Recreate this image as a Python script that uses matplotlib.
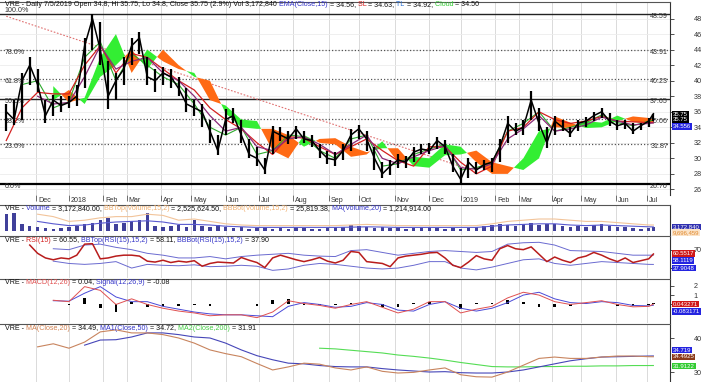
import numpy as np
import pandas as pd
import matplotlib
matplotlib.use("Agg")
import matplotlib.pyplot as plt

plt.rcParams['font.family'] = ['Liberation Sans', 'DejaVu Sans']

nan = np.nan

# HOSE trading calendar for VRE (listed 6 Nov 2017)
holidays = ['2018-01-01', '2018-02-14', '2018-02-15', '2018-02-16', '2018-02-19', '2018-02-20',
            '2018-04-25', '2018-04-30', '2018-05-01', '2018-09-03', '2018-12-31', '2019-01-01',
            '2019-02-04', '2019-02-05', '2019-02-06', '2019-02-07', '2019-02-08',
            '2019-04-15', '2019-04-29', '2019-04-30', '2019-05-01']
month_labels = ['Dec', '2018', 'Feb', 'Mar', 'Apr', 'May', 'Jun', 'Jul', 'Aug', 'Sep', 'Oct',
                'Nov', 'Dec', '2019', 'Feb', 'Mar', 'Apr', 'May', 'Jun', 'Jul']

# weekly close / high / low (every 5th session, last = 7/5/2019)
close = [36.0, 35.0, 40.0, 42.0, 39.5, 35.5, 37.5, 36.8, 37.2, 38.0,
         44.5, 48.0, 44.0, 38.0, 40.0, 41.5, 44.5, 45.5, 40.5, 40.0,
         41.0, 40.5, 39.0, 37.0, 36.5, 36.0, 33.5, 31.0, 35.0, 35.5,
         33.0, 30.5, 30.0, 28.5, 33.5, 33.0, 32.5, 33.8, 32.5, 32.3,
         31.0, 30.0, 29.8, 31.0, 33.0, 33.8, 32.5, 30.0, 28.0, 29.0,
         29.8, 29.5, 30.8, 31.2, 31.0, 32.3, 31.5, 29.0, 27.3, 29.5,
         28.5, 29.2, 29.5, 31.5, 34.5, 33.5, 34.0, 37.5, 34.5, 32.0,
         34.8, 34.0, 33.2, 34.5, 34.8, 35.5, 36.0, 34.8, 34.2, 34.5,
         33.5, 34.2, 34.8, 35.75]
high = [37.0, 37.5, 41.0, 43.0, 41.5, 37.5, 38.2, 38.0, 38.0, 39.5,
        45.5, 48.59, 47.5, 42.5, 41.0, 43.0, 45.5, 46.3, 43.0, 41.5,
        41.8, 41.5, 40.5, 39.0, 37.5, 37.0, 35.0, 33.0, 36.4, 36.5,
        35.0, 32.5, 31.5, 30.0, 34.2, 34.0, 33.5, 34.2, 33.5, 33.0,
        31.8, 31.0, 30.8, 31.8, 33.8, 34.3, 33.5, 31.5, 29.5, 29.8,
        30.5, 30.3, 31.5, 31.8, 32.0, 32.8, 32.3, 30.5, 28.8, 30.0,
        29.5, 29.8, 30.0, 32.5, 35.5, 34.5, 35.0, 38.7, 36.5, 34.0,
        35.4, 35.0, 34.0, 35.0, 35.3, 36.0, 36.5, 35.8, 35.0, 35.0,
        34.5, 34.6, 35.2, 35.75]
low = [33.5, 34.3, 35.0, 39.5, 38.5, 34.5, 35.5, 36.0, 36.5, 36.8,
       39.0, 44.0, 42.0, 36.4, 37.5, 39.5, 42.0, 43.5, 39.5, 38.5,
       39.5, 39.0, 38.0, 36.0, 35.5, 34.0, 32.0, 30.4, 33.0, 34.5,
       32.0, 30.0, 29.0, 28.0, 30.5, 32.2, 31.8, 32.5, 32.0, 31.5,
       30.0, 29.3, 29.0, 29.8, 31.0, 32.5, 31.0, 28.5, 27.5, 27.8,
       28.8, 28.8, 29.5, 30.5, 30.5, 31.2, 30.5, 28.3, 26.7, 27.5,
       28.0, 28.5, 28.2, 29.5, 32.0, 33.0, 33.0, 35.0, 33.5, 31.3,
       33.0, 33.5, 32.8, 33.5, 34.0, 34.8, 35.2, 34.2, 33.6, 33.8,
       33.2, 33.6, 34.0, 34.8]
volume = [14, 15, 6, 4, 3, 2.5, 2, 2.5, 3, 4,
          6, 7, 9, 11, 6, 7, 8, 9, 15, 4,
          3, 4, 5, 3.5, 9, 4, 3, 5, 3, 2.5,
          3, 2, 2.5, 3, 2, 2.5, 2, 3, 2.5, 2,
          2, 2.5, 3, 3.5, 5, 4, 3, 2.5, 3, 2.5,
          3, 2, 2.5, 3.5, 3, 2.5, 2, 2.5, 2, 2.5,
          3, 4, 5, 6, 5, 4, 6, 7, 5, 6,
          6, 4, 3, 4, 3, 5, 6, 4, 3, 3.5,
          2.5, 2, 2.5, 3.17]
rsi = [nan, nan, nan, 80, 62, 52, 48, 52, 50, 58,
       82, 83, 50, 52, 56, 58, 58, 56, 45, 43,
       47, 42, 45, 43, 46, 34, 40, 43, 42, 41,
       53, 47, 42, 31, 52, 58, 53, 48, 44, 48,
       53, 45, 41, 47, 66, 64, 44, 42, 40, 33,
       52, 56, 58, 60, 63, 64, 52, 36, 31, 43,
       57, 50, 47, 72, 79, 72, 70, 76, 60, 44,
       54, 47, 42, 52, 56, 64, 58, 50, 44, 52,
       42, 46, 50, 60.55]

# indicators read every 10th session (last = 7/5/2019)
ema15 = [nan, nan, 38.0, 37.0, 37.2, 40.5, 44.5, 41.5, 42.5, 43.0, 41.0, 40.0, 38.0, 35.5, 33.5,
         34.0, 31.5, 31.0, 32.5, 32.8, 31.8, 30.5, 31.8, 33.0, 30.0, 29.3, 30.2, 31.0, 31.6, 28.8,
         28.6, 29.3, 32.5, 33.8, 35.5, 33.5, 33.8, 34.3, 35.3, 34.8, 34.3, 34.5, 34.56]
sl = [32.3, 36.5, 38.5, 38.3, 38.3, 42.0, 44.5, 41.0, 43.5, 43.0, 41.5, 40.0, 38.8, 36.5, 35.0,
      33.8, 32.0, 30.5, 32.8, 32.6, 31.5, 30.5, 31.5, 32.5, 31.0, 29.7, 29.0, 31.5, 31.5, 29.5,
      28.0, 29.0, 33.5, 34.0, 36.0, 35.0, 34.5, 34.8, 35.4, 34.8, 34.7, 34.6, 34.63]
tl = [nan, 39.5, 40.0, 36.5, 37.3, 43.0, 45.0, 40.0, 43.5, 42.0, 40.5, 39.5, 37.0, 34.0, 33.0,
      34.0, 30.5, 31.0, 33.0, 32.8, 31.0, 30.0, 32.5, 33.0, 29.0, 29.3, 30.5, 31.2, 31.8, 28.5,
      28.8, 29.5, 33.5, 34.5, 36.0, 33.5, 34.0, 34.6, 35.6, 34.6, 34.2, 34.8, 34.92]
cloud_a = [nan, nan, nan, 39.3, 37.2, 37.8, 43.0, 46.0, 41.0, 44.0, 42.5, 41.5, 41.0, 37.5, 36.8,
           35.0, 34.8, 31.0, 30.0, 33.0, 32.0, 31.8, 30.2, 30.5, 32.2, 29.5, 30.2, 30.0, 31.8, 31.5,
           29.5, 28.0, 28.0, 30.0, 33.5, 34.0, 33.9, 34.8, 34.6, 35.5, 34.7, 34.6, 34.5]
cloud_b = [nan, nan, nan, 37.5, 38.8, 37.0, 40.5, 42.0, 44.0, 41.5, 44.0, 42.0, 40.5, 40.0, 35.8,
           34.0, 33.8, 33.8, 33.0, 31.5, 32.5, 32.6, 31.5, 30.8, 31.3, 31.3, 29.0, 28.8, 30.4, 30.5,
           31.0, 29.5, 29.0, 28.5, 30.0, 35.4, 34.6, 33.9, 34.0, 34.8, 35.4, 35.2, 35.0]
vol_ma = [nan, nan, 8, 6, 4.5, 5, 6.5, 7.5, 8, 8.5, 7.5, 5.5, 5.5, 5, 4, 3.5, 3, 3, 3, 3, 3, 3,
          3.2, 3.5, 3.3, 3, 3, 3, 3, 3, 3, 4, 5, 5.5, 6, 6, 5, 4.5, 5, 4.5, 4, 3.5, 3.4]
vol_bbtop = [nan, nan, 14, 12, 8, 9, 11, 12, 12, 14, 13, 9, 10, 8, 6, 5, 4.5, 4.5, 4.5, 4.5, 4.5,
             4.5, 5, 5.5, 5, 4.5, 4.5, 4.5, 4.5, 4.5, 4.5, 6, 8, 9, 10, 10, 9, 8, 8, 7, 6, 5, 5]
rsi_top = [nan, nan, nan, 72, 70, 80, 82, 75, 70, 62, 58, 52, 52, 55, 50, 55, 58, 60, 62, 58, 56,
           55, 68, 70, 64, 58, 62, 66, 68, 66, 64, 66, 82, 85, 86, 80, 68, 67, 66, 62, 58, 58, 58.11]
rsi_bot = [nan, nan, nan, 45, 40, 38, 40, 44, 30, 38, 36, 35, 37, 33, 34, 36, 34, 25, 28, 36, 40,
           38, 34, 30, 28, 30, 36, 44, 44, 30, 26, 32, 40, 48, 50, 40, 36, 40, 44, 42, 40, 38, 37.90]
macd = [nan, nan, nan, 0.45, 0.3, 1.9, 1.5, 0.0, 0.6, 0.0, -0.4, -0.7, -0.9, -1.2, -1.1, -1.1,
        -1.4, -0.8, 0.4, 0.1, -0.1, -0.4, 0.0, 0.3, -0.3, -0.9, -0.5, 0.3, 0.3, -0.9, -0.5, -0.2,
        0.7, 1.3, 1.0, 0.3, 0.0, 0.2, 0.4, 0.0, -0.25, -0.2, 0.04]
signal = [nan, nan, nan, 0.4, 0.35, 1.2, 1.9, 0.8, 0.3, 0.3, -0.2, -0.5, -0.8, -1.0, -1.1, -1.1,
          -1.2, -1.3, -0.2, 0.2, 0.0, -0.3, -0.2, 0.2, 0.0, -0.6, -0.7, 0.0, 0.3, -0.4, -0.7, -0.4,
          0.2, 1.0, 1.3, 0.6, 0.2, 0.1, 0.3, 0.2, -0.1, -0.15, -0.08]
hist = [nan, nan, nan, 0.05, -0.05, 0.7, -0.4, -0.8, 0.3, -0.3, -0.2, -0.2, -0.1, -0.2, 0.0, 0.0,
        -0.2, 0.5, 0.6, -0.1, -0.1, -0.1, 0.2, 0.1, -0.3, -0.3, 0.2, 0.3, 0.0, -0.5, 0.2, 0.2,
        0.5, 0.3, -0.3, -0.3, -0.2, 0.1, 0.1, -0.2, -0.15, -0.05, 0.12]
ma20 = [nan, nan, 37.4, 38.3, 37.0, 38.8, 41.8, 42.4, 41.5, 41.5, 41.0, 40.0, 38.5, 36.5, 35.4,
        34.5, 32.5, 30.6, 31.5, 32.6, 32.3, 31.2, 30.6, 31.5, 30.2, 29.7, 29.9, 30.6, 31.2, 29.2,
        28.6, 28.5, 30.0, 32.0, 34.0, 34.4, 34.0, 34.0, 34.4, 34.7, 34.7, 34.5, 34.49]
ma50 = [nan, nan, nan, nan, nan, 37.9, 39.4, 39.5, 40.3, 41.5, 41.5, 41.0, 40.3, 40.0, 38.5,
        36.5, 34.8, 33.6, 32.6, 32.4, 31.9, 31.6, 31.5, 31.5, 31.0, 30.6, 30.3, 30.0, 30.1, 29.8,
        29.7, 29.7, 30.0, 30.6, 31.5, 32.4, 33.3, 33.9, 34.4, 34.5, 34.6, 34.7, 34.72]
ma200 = [nan] * 20 + [37.0, 36.8, 36.4, 36.0, 35.6, 35.0, 34.6, 34.1, 33.5, 32.8, 32.2, 31.6,
                      31.5, 31.5, 31.6, 31.6, 31.7, 31.7, 31.8, 31.8, 31.9, 31.9, 31.91]

fib_pct = ['100.0%', '78.6%', '61.8%', '50.0%', '38.2%', '23.6%', '0.0%']
fib_val = [48.59, 43.91, 40.23, 37.65, 35.06, 31.87, 26.70]
trend_day = [0, 300]
trend_val = [48.3, 28.3]

# ---- positions on a trading-session axis ----
days = pd.date_range('2017-11-06', '2019-07-05',
                     freq=pd.offsets.CustomBusinessDay(holidays=holidays))
n = len(days)
wk = np.r_[np.arange(0, n - 3, 5), n - 1]
tk = np.r_[np.arange(0, n - 3, 10), n - 1]
month_pos = np.flatnonzero(days.month != np.roll(days.month, 1))[1:]

W, H = 710, 382
FS = 5.15
fig = plt.figure(figsize=(W / 100, H / 100), dpi=100)


def panel(top, bottom):
    ax = fig.add_axes([0, 1 - bottom / H, 670 / W, (bottom - top) / H])
    ax.set_xlim(-4, 423.6)
    ax.spines['left'].set_visible(False)
    ax.spines['bottom'].set_visible(False)
    ax.spines['top'].set_color('#555555')
    ax.spines['right'].set_color('#333333')
    ax.yaxis.tick_right()
    ax.tick_params(axis='y', labelsize=5.2, length=3, pad=14, colors='#333333', width=0.6)
    ax.tick_params(axis='x', bottom=False, labelbottom=False)
    for m in month_pos:
        ax.axvline(m, color='#dadada', lw=0.7, zorder=0)
    return ax


def multi_text(ax, ypix, parts):
    t = ax.figure.text(5 / W, 1 - ypix / H, parts[0][0], color=parts[0][1], fontsize=FS,
                       va='center')
    for s, c in parts[1:]:
        t = ax.annotate(s, xy=(1, 0), xycoords=t, va='bottom', color=c, fontsize=FS)


def tag(ypix, s, fc, tc='white'):
    fig.text(673 / W, 1 - ypix / H, s, color=tc, fontsize=4.3, va='center', ha='left',
             bbox=dict(boxstyle='square,pad=0.12', fc=fc, ec='none'))


BLK = '#111111'
BLUE = '#3434c8'

# ---- main price panel ----
ax = panel(2, 195)
ax.set_ylim(25.28, 50.135)
ax.set_yticks(range(26, 49, 2))
for v in range(26, 49, 2):
    ax.axhline(v, color='#ececec', lw=0.6, zorder=0)
for p, v in zip(fib_pct, fib_val):
    if p in ('100.0%', '50.0%', '0.0%'):
        ax.axhline(v, color='#222222' if p != '0.0%' else 'black',
                   lw=1.6 if p == '0.0%' else 1.0, zorder=1)
    else:
        ax.axhline(v, color='#555555', lw=0.9, ls=(0, (1, 1.6)), zorder=1)
    dy = 0.45 if p == '100.0%' else -0.3
    ax.text(0.007, v + dy, p, transform=ax.get_yaxis_transform(), fontsize=FS,
            color='#333333', va='center')
    ax.text(0.997, v - 0.3, f'{v:.2f}', transform=ax.get_yaxis_transform(), fontsize=FS,
            color='#333333', va='center', ha='right')
ax.plot(trend_day, trend_val, color='#e07070', lw=0.8, ls=(0, (1.5, 1.5)), zorder=2)

ca = np.array(cloud_a)
cb = np.array(cloud_b)
ok = ~np.isnan(ca)
ax.fill_between(tk[ok], ca[ok], cb[ok], where=ca[ok] >= cb[ok], interpolate=True,
                color='#33ee33', lw=0, zorder=2)
ax.fill_between(tk[ok], ca[ok], cb[ok], where=ca[ok] < cb[ok], interpolate=True,
                color='#ff6a14', lw=0, zorder=2)
ax.plot(tk, tl, color='#2eaa2e', lw=0.8, zorder=3)
ax.plot(tk, sl, color='#d42020', lw=0.9, zorder=3)
ax.plot(tk, ema15, color='#8b2a78', lw=0.9, zorder=3)
ax.vlines(wk, low, high, color='black', lw=1.6, zorder=4)
ax.plot(wk, close, color='black', lw=1.1, zorder=4)

for m, lab in zip(month_pos, month_labels):
    ax.text(m + 1.2, -0.012, lab, transform=ax.get_xaxis_transform(), fontsize=FS,
            color='#333333', va='top', ha='left')
ax.set_xticks(month_pos)
ax.tick_params(axis='x', bottom=True, length=4, width=0.6, colors='#555555', labelbottom=False)

multi_text(ax, 5, [('VRE - Daily 7/5/2019 Open 34.8, Hi 35.75, Lo 34.8, Close 35.75 (2.9%) '
                    'Vol 3,172,840', BLK), (' EMA(Close,15)', BLUE), (' = 34.56,', BLK),
                   (' SL', '#d42020'), (' = 34.63,', BLK), (' TL', '#2a6fd0'),
                   (' = 34.92,', BLK), (' Cloud', '#33cc33'), (' = 34.50', BLK)])
tag(114, '35.75', 'black')
tag(119.5, '35.75', 'black')
tag(126.5, '34.556', '#2424e0')

# ---- volume ----
ax = panel(205, 235)
ax.set_ylim(-3.33, 21.67)
ax.set_yticks([])
ax.bar(wk, volume, width=2.2, color='#40409a', lw=0, zorder=2)
ax.plot(tk, vol_bbtop, color='#f2c49a', lw=0.8, zorder=3)
ax.plot(tk, vol_ma, color='#5a5ad0', lw=0.8, zorder=3)
multi_text(ax, 209, [('VRE -', BLK), (' Volume', BLUE), (' = 3,172,840.00,', BLK),
                     (' BBTop(Volume,15,2)', '#f0b070'), (' = 2,525,624.50,', BLK),
                     (' BBBot(Volume,15,2)', '#f0b070'), (' = 25,819.38,', BLK),
                     (' MA(Volume,20)', BLUE), (' = 1,214,914.00', BLK)])
tag(227, '3,172,840', '#3030b0')
tag(232.5, '9,696,459', '#fbe3c8', '#e08a30')

# ---- RSI ----
ax = panel(236, 278)
ax.set_ylim(8.37, 99.7)
ax.set_yticks([30, 70])
ax.set_yticklabels(['', '70'])
ax.plot(tk, rsi_top, color='#6a6ad0', lw=0.7, zorder=2)
ax.plot(tk, rsi_bot, color='#6a6ad0', lw=0.7, zorder=2)
ax.plot(wk, rsi, color='#b81c1c', lw=1.1, zorder=3)
multi_text(ax, 240, [('VRE -', BLK), (' RSI(15)', '#d42020'), (' = 60.55,', BLK),
                     (' BBTop(RSI(15),15,2)', BLUE), (' = 58.11,', BLK),
                     (' BBBot(RSI(15),15,2)', BLUE), (' = 37.90', BLK)])
tag(253.5, '60.5517', '#d01818')
tag(260.5, '58.1119', '#2424e0')
tag(268, '37.9048', '#2424e0')

# ---- MACD ----
ax = panel(279, 323)
ax.set_ylim(-1.97, 2.71)
ax.set_yticks([0, 1, 2])
ax.set_yticklabels(['', '1', '2'])
ax.bar(tk, hist, width=1.8, color='black', lw=0, zorder=2)
ax.plot(tk, signal, color='#4a4ad8', lw=0.7, zorder=3)
ax.plot(tk, macd, color='#e05050', lw=0.7, zorder=3)
multi_text(ax, 282, [('VRE -', BLK), (' MACD(12,26)', '#e05050'), (' = 0.04,', BLK),
                     (' Signal(12,26,9)', BLUE), (' = -0.08', BLK)])
tag(304, '0.043271', '#d01818')
tag(311.5, '-0.083171', '#2424e0')

# ---- moving averages ----
ax = panel(324, 382)
ax.set_ylim(27.06, 44.12)
ax.set_yticks([30, 40])
ax.plot(tk, ma200, color='#55dd55', lw=0.8, zorder=2)
ax.plot(tk, ma50, color='#4646b8', lw=0.8, zorder=3)
ax.plot(tk, ma20, color='#c8845e', lw=0.8, zorder=3)
multi_text(ax, 328, [('VRE -', BLK), (' MA(Close,20)', '#d08050'), (' = 34.49,', BLK),
                     (' MA1(Close,50)', BLUE), (' = 34.72,', BLK),
                     (' MA2(Close,200)', '#44cc44'), (' = 31.91', BLK)])
tag(350, '34.719', '#2424e0')
tag(357, '34.4925', '#8b3a1a')
tag(366, '31.9122', '#33cc33')

fig.savefig('out.png', dpi=100)
